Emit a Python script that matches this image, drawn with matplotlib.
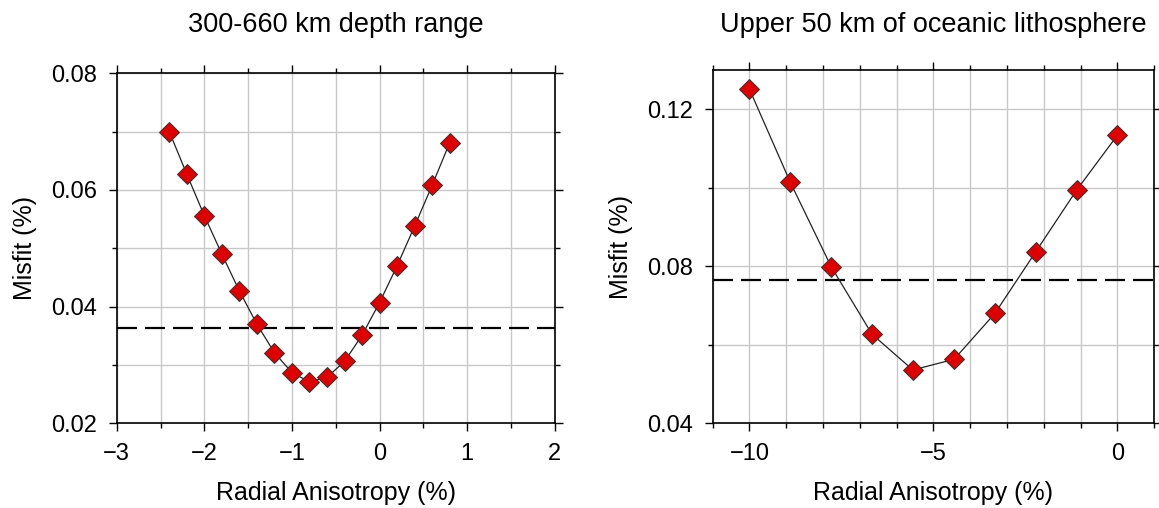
import numpy as np
import matplotlib
matplotlib.use("Agg")
import matplotlib.pyplot as plt
from matplotlib.ticker import MultipleLocator

plt.rcParams['font.family'] = ['Liberation Sans', 'DejaVu Sans']

# left panel: 300-660 km
aniso_deep = [-2.4, -2.2, -2.0, -1.8, -1.6, -1.4, -1.2, -1.0, -0.8,
              -0.6, -0.4, -0.2, 0.0, 0.2, 0.4, 0.6, 0.8]
misfit_deep = [0.0700, 0.0627, 0.0556, 0.0490, 0.0427, 0.0370, 0.0321, 0.0287, 0.0271,
               0.0279, 0.0306, 0.0351, 0.0407, 0.0470, 0.0538, 0.0608, 0.0681]
thresh_deep = 0.0363

# right panel: upper 50 km
aniso_lith = [-10.0, -8.89, -7.78, -6.67, -5.56, -4.44, -3.33, -2.22, -1.11, 0.0]
misfit_lith = [0.1251, 0.1014, 0.0799, 0.0627, 0.0536, 0.0563, 0.0680, 0.0837, 0.0994, 0.1134]
thresh_lith = 0.0764

titles = ["300-660 km depth range", "Upper 50 km of oceanic lithosphere"]


def panel(ax, x, y, thresh, xlim, ylim, xmaj, xmin, ymaj, ymin, title):
    ax.set_xlim(xlim)
    ax.set_ylim(ylim)
    ax.xaxis.set_major_locator(MultipleLocator(xmaj))
    ax.xaxis.set_minor_locator(MultipleLocator(xmin))
    ax.yaxis.set_major_locator(MultipleLocator(ymaj))
    ax.yaxis.set_minor_locator(MultipleLocator(ymin))
    ax.grid(True, which='both', color='#c8c8c8', lw=1.0, zorder=0)
    ax.set_axisbelow(True)
    ax.tick_params(which='both', direction='out', top=True, right=True,
                   labelsize=17, width=1.0, pad=8)
    ax.tick_params(which='major', length=6)
    ax.tick_params(which='minor', length=3.5)
    for s in ax.spines.values():
        s.set_linewidth(1.2)
    ax.axhline(thresh, color='black', lw=1.6, dashes=[9, 3.6], zorder=2)
    ax.plot(x, y, color='#222222', lw=0.9, zorder=3)
    ax.plot(x, y, ls='none', marker='D', ms=10, mfc='#dd0000', mec='#333333',
            mew=0.7, zorder=4)
    ax.set_xlabel("Radial Anisotropy (%)", fontsize=18, labelpad=12)
    ax.set_ylabel("Misfit (%)", fontsize=18, labelpad=10)
    # titles sit on the same baseline for both panels
    pos = ax.get_position()
    fig.text((pos.x0 + pos.x1) / 2, 1 - 32 / 508, title, fontsize=19.5,
             ha='center', va='baseline')


fig = plt.figure(figsize=(11.59, 5.08), dpi=100)
ax1 = fig.add_axes([0.1007, 0.1667, 0.378, 0.689])
ax2 = fig.add_axes([0.6149, 0.1667, 0.381, 0.6955])

panel(ax1, aniso_deep, misfit_deep, thresh_deep, (-3, 2), (0.02, 0.08),
      1, 0.5, 0.02, 0.01, titles[0])
panel(ax2, aniso_lith, misfit_lith, thresh_lith, (-11, 1), (0.04, 0.13),
      5, 1, 0.04, 0.02, titles[1])

fig.savefig("out.png", dpi=100)
